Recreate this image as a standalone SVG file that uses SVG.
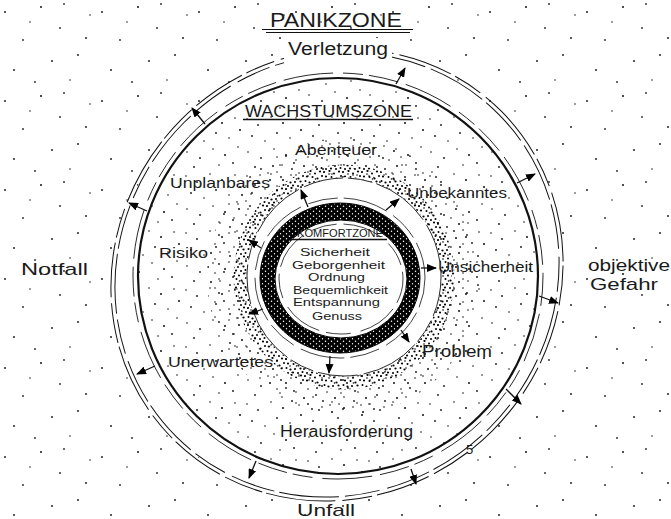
<svg xmlns="http://www.w3.org/2000/svg" width="671" height="519" viewBox="0 0 671 519">
<style>
text{font-family:"Liberation Sans","DejaVu Sans",sans-serif;fill:#1a1a1a}
.ln{fill:none;stroke:#111}
.arr{stroke:#111;stroke-width:1.3;fill:none;marker-end:url(#ah)}
</style>
<defs>
<pattern id="pSparse" patternUnits="userSpaceOnUse" width="97" height="89">
<g fill="#222"><circle cx="5" cy="12" r="1"/><circle cx="23" cy="40" r="0.9"/><circle cx="41" cy="7" r="1.1"/><circle cx="60" cy="28" r="0.9"/><circle cx="78" cy="55" r="1"/><circle cx="90" cy="15" r="0.8"/><circle cx="14" cy="70" r="1"/><circle cx="35" cy="82" r="0.9"/><circle cx="52" cy="61" r="1"/><circle cx="70" cy="80" r="0.8"/><circle cx="86" cy="38" r="1"/><circle cx="30" cy="22" r="0.8"/><circle cx="64" cy="4" r="0.9"/></g>
</pattern>
<pattern id="pWA" patternUnits="userSpaceOnUse" width="61" height="57">
<g fill="#111"><circle cx="3" cy="5" r="0.8"/><circle cx="14" cy="11" r="0.9"/><circle cx="27" cy="3" r="0.8"/><circle cx="39" cy="9" r="1"/><circle cx="52" cy="4" r="0.8"/><circle cx="8" cy="22" r="0.9"/><circle cx="21" cy="27" r="0.8"/><circle cx="33" cy="19" r="0.9"/><circle cx="46" cy="24" r="0.8"/><circle cx="57" cy="16" r="1"/><circle cx="4" cy="38" r="0.8"/><circle cx="17" cy="44" r="0.9"/><circle cx="30" cy="35" r="0.8"/><circle cx="42" cy="41" r="1"/><circle cx="55" cy="33" r="0.8"/><circle cx="11" cy="53" r="0.9"/><circle cx="36" cy="51" r="0.8"/><circle cx="50" cy="49" r="0.9"/></g>
</pattern>
<pattern id="pWB" patternUnits="userSpaceOnUse" width="31" height="29">
<g fill="#111"><circle cx="2" cy="3" r="0.9"/><circle cx="12" cy="1" r="0.8"/><circle cx="22" cy="6" r="1"/><circle cx="29" cy="12" r="0.8"/><circle cx="7" cy="11" r="0.9"/><circle cx="17" cy="15" r="0.8"/><circle cx="25" cy="21" r="1"/><circle cx="3" cy="20" r="0.8"/><circle cx="13" cy="24" r="0.9"/><circle cx="20" cy="28" r="0.8"/><circle cx="29" cy="27" r="0.8"/></g>
</pattern>
<pattern id="pDense" patternUnits="userSpaceOnUse" width="19" height="17">
<g fill="#000"><circle cx="1" cy="2" r="1.1"/><circle cx="6.5" cy="1" r="1.1"/><circle cx="11" cy="3.5" r="1"/><circle cx="16" cy="1.5" r="1.1"/><circle cx="3" cy="6.5" r="1.1"/><circle cx="8.5" cy="7" r="1"/><circle cx="13.5" cy="8.5" r="1.1"/><circle cx="18" cy="6" r="1"/><circle cx="1.5" cy="11" r="1"/><circle cx="5.5" cy="12.5" r="1.1"/><circle cx="10" cy="12" r="1"/><circle cx="15.5" cy="11.5" r="1.1"/><circle cx="3" cy="16" r="1"/><circle cx="8" cy="15.5" r="1.1"/><circle cx="13" cy="16" r="1"/><circle cx="17.5" cy="15" r="1"/><circle cx="11.5" cy="9" r="0.8"/><circle cx="6" cy="4" r="0.8"/></g>
</pattern>
<pattern id="pRing" patternUnits="userSpaceOnUse" width="6" height="5">
<rect width="6" height="5" fill="#000"/><g fill="#fff"><circle cx="1.5" cy="1.2" r="0.75"/><circle cx="4.5" cy="3.7" r="0.7"/></g>
</pattern>
<marker id="ah" markerUnits="userSpaceOnUse" markerWidth="10" markerHeight="8" refX="9" refY="4" orient="auto"><path d="M0,0 L10,4 L0,8 Z" fill="#000"/></marker>
</defs>
<rect width="671" height="519" fill="#fff"/>

<g id="panikzone">
<rect width="671" height="519" fill="url(#pSparse)"/>
<ellipse cx="337" cy="275" rx="229" ry="217" transform="rotate(-45 337 275)" fill="#fff"/>
<ellipse class="ln" cx="337" cy="275" rx="232" ry="220" transform="rotate(-45 337 275)" stroke-width="1" stroke-dasharray="55 5 30 7 70 4 40 6"/>
<ellipse class="ln" cx="337" cy="275" rx="228" ry="216" transform="rotate(-45 337 275)" stroke-width="1" stroke-dasharray="35 6 60 5 45 8"/>
</g>

<g id="wachstumszone">
<ellipse cx="338" cy="276" rx="200" ry="198" fill="url(#pWA)"/>
<ellipse cx="344" cy="277" rx="122" ry="124" fill="none" stroke="url(#pWB)" stroke-width="30"/>
<ellipse cx="344" cy="277" rx="104" ry="106" fill="none" stroke="url(#pDense)" stroke-width="13"/>
<ellipse cx="344" cy="277" rx="100" ry="102" fill="none" stroke="url(#pWB)" stroke-width="5"/>
<ellipse cx="344" cy="277" rx="97" ry="99" fill="#fff" stroke="#111" stroke-width="0.9" stroke-dasharray="40 5 25 4 60 6"/>
<ellipse class="ln" cx="338" cy="276" rx="200" ry="198" stroke-width="2.2"/>
<ellipse class="ln" cx="338" cy="276" rx="205" ry="203" stroke-width="0.9" stroke-dasharray="30 8 50 10 20 6"/>
</g>

<g id="komfortzone">
<path d="M260,278 a80,75 0 1,0 160,0 a80,75 0 1,0 -160,0 Z M275,279 a66,59 0 1,0 132,0 a66,59 0 1,0 -132,0 Z" fill="url(#pRing)" fill-rule="evenodd" stroke="#000" stroke-width="1"/>
<ellipse class="ln" cx="340" cy="278" rx="85" ry="80" stroke-width="0.8" stroke-dasharray="30 6 45 8"/>
<ellipse class="ln" cx="341" cy="279" rx="62" ry="55" stroke-width="0.8" stroke-dasharray="25 7 40 10"/>
</g>

<rect x="284" y="38" width="108" height="26" fill="#fff"/>

<g id="connectors">
<path class="arr" d="M396,84 L405,68"/>
<path class="arr" d="M205,124 L192,108"/>
<path class="arr" d="M147,211 L129,203"/>
<path class="arr" d="M155,366 L137,374"/>
<path class="arr" d="M256,461 L249,478"/>
<path class="arr" d="M411,469 L416,484"/>
<path class="arr" d="M506,389 L521,404"/>
<path class="arr" d="M539,296 L558,303"/>
<path class="arr" d="M517,183 L535,174"/>
<path class="arr" d="M308,207 L301,190"/>
<path class="arr" d="M386,210 L399,199"/>
<path class="arr" d="M421,268 L436,268"/>
<path class="arr" d="M401,330 L409,342"/>
<path class="arr" d="M330,356 L329,373"/>
<path class="arr" d="M263,309 L249,314"/>
<path class="arr" d="M261,248 L249,240"/>
</g>

<g id="label-panikzone">
<text x="270" y="27" font-size="20" textLength="132" lengthAdjust="spacingAndGlyphs">PANIKZONE</text>
<path class="ln" d="M262,29.5 L413,29.5 M266,32.5 L410,32.5" stroke-width="1"/>
</g>
<g id="label-verletzung"><text x="288" y="55" font-size="18" textLength="100" lengthAdjust="spacingAndGlyphs">Verletzung</text></g>
<g id="label-wachstumszone">
<text x="245" y="117" font-size="16" textLength="167" lengthAdjust="spacingAndGlyphs">WACHSTUMSZONE</text>
<path class="ln" d="M243,119.5 L413,119.5" stroke-width="1.6"/>
</g>
<g id="label-abenteuer"><text x="295" y="155" font-size="15" textLength="82" lengthAdjust="spacingAndGlyphs">Abenteuer</text></g>
<g id="label-unplanbares"><text x="170" y="188" font-size="15" textLength="100" lengthAdjust="spacingAndGlyphs">Unplanbares</text></g>
<g id="label-unbekanntes"><text x="407" y="198" font-size="15" textLength="100" lengthAdjust="spacingAndGlyphs">Unbekanntes</text></g>
<g id="label-risiko"><text x="159" y="258" font-size="15" textLength="49" lengthAdjust="spacingAndGlyphs">Risiko</text></g>
<g id="label-notfall"><text x="21" y="275" font-size="17" textLength="67" lengthAdjust="spacingAndGlyphs">Notfall</text></g>
<g id="label-unsicherheit"><text x="438" y="272" font-size="15" textLength="95" lengthAdjust="spacingAndGlyphs">Unsicherheit</text></g>
<g id="label-objektive-gefahr">
<text x="588" y="271" font-size="16" textLength="82" lengthAdjust="spacingAndGlyphs">objektive</text>
<text x="590" y="290" font-size="17" textLength="68" lengthAdjust="spacingAndGlyphs">Gefahr</text>
</g>
<g id="label-problem"><text x="422" y="357" font-size="16" textLength="70" lengthAdjust="spacingAndGlyphs">Problem</text></g>
<g id="label-unerwartetes"><text x="168" y="367" font-size="14" textLength="105" lengthAdjust="spacingAndGlyphs">Unerwartetes</text></g>
<g id="label-herausforderung"><text x="280" y="437" font-size="16" textLength="133" lengthAdjust="spacingAndGlyphs">Herausforderung</text></g>
<g id="label-unfall"><text x="297" y="516" font-size="17" textLength="58" lengthAdjust="spacingAndGlyphs">Unfall</text></g>
<g id="label-5"><text x="466" y="454" font-size="13">5</text></g>
<g id="label-komfortzone">
<text x="297" y="237" font-size="10.5" textLength="86" lengthAdjust="spacingAndGlyphs">KOMFORTZONE</text>
<path class="ln" d="M290,239.5 L387,239.5" stroke-width="1.5"/>
<text x="300" y="256" font-size="10.5" textLength="70" lengthAdjust="spacingAndGlyphs">Sicherheit</text>
<text x="292" y="268.5" font-size="10.5" textLength="93" lengthAdjust="spacingAndGlyphs">Geborgenheit</text>
<text x="308" y="281" font-size="10.5" textLength="57" lengthAdjust="spacingAndGlyphs">Ordnung</text>
<text x="293" y="293.5" font-size="10.5" textLength="95" lengthAdjust="spacingAndGlyphs">Bequemlichkeit</text>
<text x="293" y="306" font-size="10.5" textLength="87" lengthAdjust="spacingAndGlyphs">Entspannung</text>
<text x="312" y="320" font-size="10.5" textLength="50" lengthAdjust="spacingAndGlyphs">Genuss</text>
</g>
</svg>
